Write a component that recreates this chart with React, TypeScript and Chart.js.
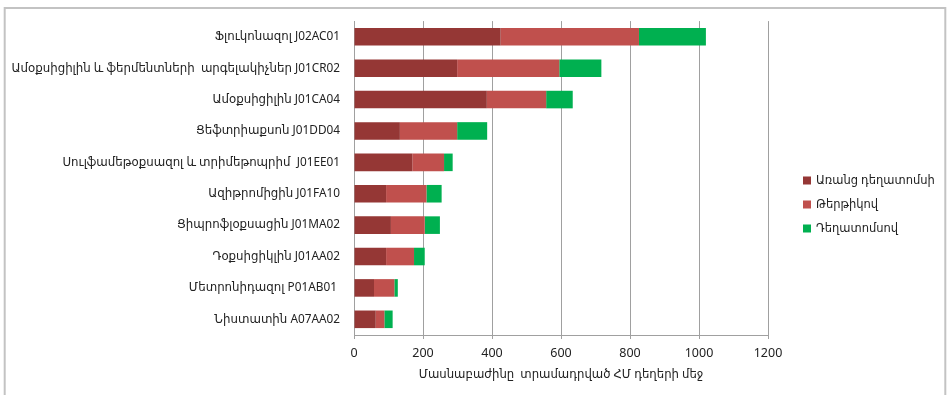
import React, { useEffect, useRef } from "react";
import { Chart, registerables } from "chart.js";

Chart.register(...registerables);

const categories = [
  "Ֆլուկոնազոլ J02AC01",
  "Ամօքսիցիլին և ֆերմենտների  արգելակիչներ J01CR02",
  "Ամօքսիցիլին J01CA04",
  "Ցեֆտրիաքսոն J01DD04",
  "Սուլֆամեթօքսազոլ և տրիմեթոպրիմ  J01EE01",
  "Ազիթրոմիցին J01FA10",
  "Ցիպրոֆլօքսացին J01MA02",
  "Դօքսիցիկլին J01AA02",
  "Մետրոնիդազոլ P01AB01 ",
  "Նիստատին A07AA02",
];

const seriesNames = ["Առանց դեղատոմսի", "Թերթիկով", "Դեղատոմսով"];
const withoutPrescription = [425, 299, 385, 133, 169, 93, 107, 93, 58, 63];
const leaflet = [401, 296, 172, 166, 92, 117, 98, 81, 59, 25];
const withPrescription = [194, 122, 77, 87, 25, 44, 44, 31, 10, 24];
const seriesColors = ["#953735", "#C0504D", "#00B050"];

const xTicks = [0, 200, 400, 600, 800, 1000, 1200];
const xTitle = "Մասնաբաժինը  տրամադրված ՀՄ դեղերի մեջ";

const FONT = "'Noto Sans', 'DejaVu Sans', sans-serif";
const TEXT = "#222222";
const GRID = "#a0a0a0";

const frame = {
  id: "frame",
  beforeDraw(chart: any) {
    const { ctx } = chart;
    ctx.save();
    ctx.fillStyle = "#ffffff";
    ctx.fillRect(0, 0, chart.width, chart.height);
    ctx.strokeStyle = "#c3c3c3";
    ctx.lineWidth = 2;
    ctx.strokeRect(4.7, 8, 940.6, 400);
    ctx.restore();
  },
};

const sideLegend = {
  id: "sideLegend",
  afterDraw(chart: any) {
    const { ctx } = chart;
    const x = 803;
    const y0 = 180.5;
    const step = 24;
    ctx.save();
    ctx.font = `11.5px ${FONT}`;
    ctx.textBaseline = "middle";
    ctx.textAlign = "left";
    chart.data.datasets.forEach((ds: any, i: number) => {
      const y = y0 + i * step;
      ctx.fillStyle = ds.backgroundColor;
      ctx.fillRect(x, y - 4, 8, 8);
      ctx.fillStyle = TEXT;
      ctx.fillText(ds.label, x + 13, y);
    });
    ctx.restore();
  },
};

export default function App() {
  const ref = useRef<HTMLCanvasElement>(null);

  useEffect(() => {
    if (!ref.current) return;
    const values = [withoutPrescription, leaflet, withPrescription];
    const chart = new Chart(ref.current, {
      type: "bar",
      data: {
        labels: categories,
        datasets: seriesNames.map((name, i) => ({
          label: name,
          data: values[i],
          backgroundColor: seriesColors[i],
          borderWidth: 0,
          barPercentage: 0.56,
          categoryPercentage: 1,
        })),
      },
      options: {
        indexAxis: "y",
        responsive: false,
        animation: false,
        devicePixelRatio: 1,
        layout: { padding: { top: 20, right: 181, left: 0, bottom: 0 } },
        plugins: {
          legend: { display: false },
          tooltip: { enabled: false },
        },
        scales: {
          x: {
            stacked: true,
            min: 0,
            max: 1200,
            afterBuildTicks(scale: any) {
              scale.ticks = xTicks.map((v) => ({ value: v }));
            },
            afterFit(scale: any) {
              scale.height = 60;
            },
            grid: { color: GRID, lineWidth: 1, tickLength: 4, tickColor: GRID },
            border: { color: GRID, width: 1 },
            ticks: {
              color: TEXT,
              font: { family: FONT, size: 12.5 },
              padding: 7,
              callback: (v: any) => String(v),
            },
            title: {
              display: true,
              text: xTitle,
              color: TEXT,
              font: { family: FONT, size: 11.7 },
              padding: { top: 0, bottom: 13 },
            },
          },
          y: {
            stacked: true,
            afterFit(scale: any) {
              scale.width = 354;
            },
            grid: { display: false, drawTicks: false },
            border: { display: true, color: GRID, width: 1 },
            ticks: { color: TEXT, font: { family: FONT, size: 11.8 }, padding: 14, autoSkip: false },
          },
        },
      },
      plugins: [frame, sideLegend],
    });
    return () => chart.destroy();
  }, []);

  return (
    <div style={{ position: "absolute", left: 0, top: 0, width: 949, height: 395 }}>
      <canvas ref={ref} width={949} height={395} style={{ display: "block" }} />
    </div>
  );
}
